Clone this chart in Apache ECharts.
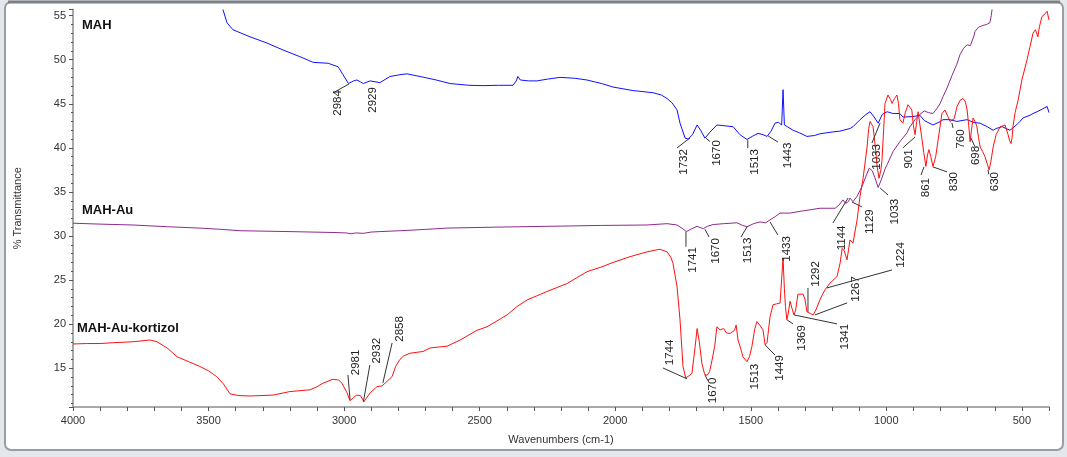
<!DOCTYPE html>
<html>
<head>
<meta charset="utf-8">
<script src="https://cdn.jsdelivr.net/npm/echarts@6/dist/echarts.min.js"></script>
<style>
html,body{margin:0;padding:0;background:#e4e7eb;}
#chart{width:1067px;height:457px;}
</style>
</head>
<body>
<div id="chart"></div>
<script>
// ---------- DATA ----------
const xTickLabels = [4000, 3500, 3000, 2500, 2000, 1500, 1000, 500];
const yTickLabels = [15, 20, 25, 30, 35, 40, 45, 50, 55];
const seriesNames = ['MAH', 'MAH-Au', 'MAH-Au-kortizol'];

// MAH spectrum [wavenumber, %T]
const mah = [
[3447,55.7],[3432,54.2],[3410,53.4],[3347,52.6],[3285,51.9],[3225,51.1],[3163,50.35],[3114,49.7],[3059,49.6],[3022,49.2],[3004,48.3],[2984,47.3],[2965,47.6],[2953,47.7],[2940,47.5],[2929,47.3],[2904,47.6],[2868,47.4],[2831,48.1],[2794,48.3],[2768,48.4],[2720,48.1],[2660,47.7],[2609,47.3],[2540,47.1],[2488,47.06],[2430,47.1],[2377,47.1],[2365,47.6],[2359,48.1],[2350,47.7],[2344,47.9],[2320,47.6],[2289,47.6],[2250,47.8],[2204,48.0],[2150,47.9],[2104,47.7],[2050,47.3],[2008,46.9],[1934,46.5],[1861,46.26],[1830,46.0],[1809,45.6],[1790,45.1],[1772,44.3],[1761,42.8],[1742,41.1],[1731,41.0],[1715,41.5],[1698,42.6],[1685,42.0],[1669,41.1],[1650,41.8],[1625,42.6],[1595,42.5],[1565,42.4],[1540,41.5],[1514,40.95],[1495,41.3],[1473,41.65],[1455,41.5],[1440,41.3],[1425,41.9],[1411,42.8],[1398,42.9],[1386,42.6],[1381,46.6],[1376,42.6],[1365,42.4],[1344,42.0],[1320,41.7],[1293,41.3],[1265,41.4],[1245,41.6],[1200,41.8],[1171,41.9],[1134,42.2],[1123,42.4],[1097,43.2],[1075,43.8],[1060,44.1],[1045,43.5],[1030,42.8],[1015,43.8],[997,44.1],[975,43.9],[950,43.9],[939,43.5],[902,43.55],[876,43.7],[860,43.1],[828,42.6],[800,43.0],[791,43.2],[765,43.2],[740,43.0],[702,43.2],[680,42.9],[654,42.8],[628,42.4],[606,42.0],[595,42.2],[573,42.4],[544,42.0],[520,42.6],[507,43.0],[496,43.4],[470,43.7],[459,43.9],[444,44.1],[425,44.4],[407,44.7],[400,44.0]
];

// MAH-Au spectrum [wavenumber, %T]
const mahAu = [
[4000,31.45],[3900,31.35],[3779,31.25],[3650,31.05],[3532,30.9],[3450,30.75],[3384,30.6],[3200,30.5],[3041,30.4],[2990,30.35],[2978,30.25],[2955,30.35],[2930,30.3],[2900,30.45],[2868,30.5],[2794,30.6],[2700,30.75],[2620,30.9],[2450,31.0],[2252,31.1],[2050,31.2],[1883,31.25],[1809,31.4],[1772,31.25],[1750,30.8],[1737,30.5],[1720,30.8],[1698,31.1],[1687,30.95],[1675,30.85],[1660,31.1],[1639,31.3],[1600,31.4],[1551,31.5],[1530,31.2],[1514,31.05],[1490,31.4],[1466,31.6],[1445,31.5],[1433,31.75],[1410,32.2],[1392,32.6],[1355,32.6],[1318,32.8],[1245,33.15],[1189,33.15],[1175,33.5],[1160,34.1],[1150,33.7],[1140,33.9],[1134,34.3],[1123,33.9],[1108,34.5],[1090,35.6],[1075,36.8],[1063,37.7],[1052,37.4],[1042,36.6],[1030,35.5],[1023,35.3],[1016,36.6],[1005,37.6],[997,38.1],[975,39.6],[950,40.7],[924,41.7],[913,42.4],[894,43.2],[876,43.8],[860,44.2],[845,44.0],[828,43.9],[815,44.4],[802,45.0],[791,45.8],[776,46.8],[758,48.2],[740,49.5],[728,50.6],[715,51.3],[702,51.7],[690,51.6],[684,51.4],[678,52.6],[673,53.2],[660,53.7],[643,53.9],[630,54.0],[618,54.2],[613,55.0],[610,55.7]
];

// MAH-Au-kortizol spectrum [wavenumber, %T]
const mahAuKortizol = [
[4000,17.75],[3950,17.8],[3900,17.8],[3850,17.9],[3779,18.0],[3716,18.2],[3690,18.0],[3653,17.3],[3616,16.3],[3570,15.7],[3532,15.2],[3500,14.7],[3470,14.05],[3447,13.3],[3421,12.1],[3390,11.9],[3347,11.85],[3262,11.95],[3200,12.35],[3126,12.55],[3100,12.9],[3078,13.3],[3041,13.75],[3020,13.65],[3008,13.3],[2989,12.2],[2978,11.3],[2965,11.7],[2953,11.95],[2940,11.9],[2927,11.2],[2904,12.2],[2879,12.9],[2860,13.0],[2849,13.3],[2823,14.05],[2810,15.2],[2794,16.0],[2780,16.4],[2757,16.7],[2709,16.9],[2683,17.3],[2620,17.5],[2572,18.2],[2510,19.3],[2473,19.7],[2440,20.3],[2399,21.05],[2362,22.0],[2325,22.75],[2290,23.2],[2252,23.7],[2178,24.6],[2140,25.3],[2104,25.95],[2050,26.5],[2008,27.0],[1946,27.65],[1883,28.2],[1835,28.5],[1809,28.2],[1795,27.6],[1787,26.9],[1772,24.25],[1761,20.5],[1750,15.2],[1740,13.9],[1733,13.85],[1725,14.2],[1717,14.4],[1705,17.5],[1698,19.5],[1690,18.0],[1680,15.5],[1670,14.3],[1661,14.2],[1652,14.6],[1643,15.9],[1633,17.5],[1625,19.7],[1613,19.35],[1600,19.5],[1590,19.0],[1576,18.95],[1560,19.3],[1554,19.9],[1547,18.2],[1535,17.0],[1529,16.3],[1514,15.75],[1505,16.3],[1496,17.45],[1485,19.5],[1477,20.3],[1465,19.8],[1455,19.35],[1447,17.65],[1440,17.9],[1429,20.8],[1418,22.2],[1405,22.3],[1392,22.4],[1385,22.6],[1381,27.5],[1376,24.0],[1372,22.0],[1367,20.5],[1362,21.2],[1355,22.6],[1348,21.8],[1341,21.05],[1335,21.5],[1326,23.4],[1307,23.4],[1300,22.8],[1293,21.4],[1280,21.2],[1270,21.05],[1260,21.6],[1245,22.75],[1235,23.4],[1226,23.9],[1208,24.65],[1182,25.4],[1170,27.0],[1163,28.6],[1155,28.3],[1145,27.3],[1134,29.55],[1123,29.2],[1108,31.8],[1097,34.5],[1086,36.5],[1071,40.1],[1065,42.2],[1060,43.0],[1049,42.4],[1040,40.0],[1034,37.9],[1027,36.55],[1020,37.5],[1016,38.6],[1010,42.0],[1005,45.0],[994,46.0],[985,45.5],[979,45.05],[970,45.6],[961,46.0],[955,45.0],[950,43.2],[939,42.8],[930,44.0],[920,44.9],[906,44.3],[900,42.5],[894,41.5],[888,43.0],[883,44.1],[876,42.6],[869,41.1],[862,39.5],[854,37.9],[848,39.2],[843,39.8],[836,39.0],[828,37.9],[818,39.0],[809,40.9],[795,43.9],[784,44.3],[773,43.55],[765,43.0],[758,42.8],[750,43.3],[739,44.7],[728,45.4],[717,45.6],[708,45.2],[702,44.3],[696,42.5],[691,40.7],[686,42.0],[680,43.4],[673,43.0],[666,42.4],[660,41.2],[654,40.1],[645,39.6],[636,39.0],[628,38.2],[621,37.5],[614,38.5],[606,40.1],[595,41.5],[580,42.4],[570,42.5],[562,42.6],[551,41.5],[545,40.8],[540,40.5],[536,41.2],[533,42.4],[525,44.0],[514,45.4],[500,47.7],[481,50.0],[470,51.5],[459,53.0],[450,53.4],[444,53.6],[441,52.6],[435,53.8],[426,54.9],[415,55.2],[407,55.5],[402,55.6],[400,54.5]
];

// Peak annotations: [label, peakWn, peakT, leaderEndWn, leaderEndT, labelWn, labelT]
const mahPeaks = [
['2984',2982,47.25,3041,46.23,3023,45.1],
['2929',null,null,null,null,2893,45.44],
['1732',1724,41.13,1772,40.0,1746,38.4],
['1670',1665,41.09,1650,40.71,1625,39.42],
['1513',1511,40.88,1511,39.97,1484,38.4],
['1443',1436,41.35,1400,40.67,1365,39.14],
['1033',1023,42.83,1053,40.56,1034,38.97],
['901',894,41.24,939,40.0,916,38.74],
['861',861,37.84,872,36.93,854,35.49],
['830',828,37.84,776,37.27,750,36.17],
['760',758,42.83,754,42.26,725,41.01],
['698',688,41.13,673,40.11,669,39.14],
['630',625,37.5,622,37.0,599,36.17]
];
const mahAuPeaks = [
['1741',1739,30.5,1739,28.79,1713,27.29],
['1670',1669,30.77,1654,29.89,1628,28.31],
['1513',1514,31.03,1536,29.89,1512,28.36],
['1433',1429,31.6,1400,30.12,1366,28.53],
['1144',1141,34.32,1197,31.48,1165,29.78],
['1129',1127,33.86,1090,33.3,1060,31.63],
['1033',1023,35.45,994,34.66,968,32.77]
];
const mahAuKortizolPeaks = [
['2981',2978,11.4,2986,14.24,2956,15.66],
['2932',2929,11.18,2905,15.37,2880,16.98],
['2858',2857,13.33,2823,17.87,2796,19.46],
['1744',1735,13.79,1824,15.03,1800,16.79],
['1670',1669,14.24,1658,13.57,1641,12.48],
['1513',null,null,null,null,1484,14.05],
['1449',1447,17.64,1411,16.51,1392,15.03],
['1369',1366,20.48,1344,20.03,1311,18.44],
['1341',1341,21.05,1182,20.03,1152,18.58],
['1292',1289,21.39,1289,24.11,1259,25.7],
['1267',1263,21.05,1145,22.41,1112,24.0],
['1224',1219,24.11,979,26.15,946,27.85]
];

// ---------- CHART ----------
const FONT = '"Liberation Sans", Arial, sans-serif';
const allPeaks = mahPeaks.concat(mahAuPeaks, mahAuKortizolPeaks);

const chart = echarts.init(document.getElementById('chart'), null, {renderer: 'canvas'});

function renderPeak(params, api) {
  const a = allPeaks[params.dataIndex];
  const children = [];
  if (a[1] != null) {
    const p1 = api.coord([a[1], a[2]]);
    const p2 = api.coord([a[3], a[4]]);
    children.push({
      type: 'line',
      shape: {x1: p1[0], y1: p1[1], x2: p2[0], y2: p2[1]},
      style: {stroke: '#333', lineWidth: 1}
    });
  }
  const t = api.coord([a[5], a[6]]);
  children.push({
    type: 'text',
    x: t[0], y: t[1],
    rotation: Math.PI / 2,
    style: {
      text: a[0], x: 0, y: 0, align: 'center', verticalAlign: 'middle',
      fill: '#222', font: '11.5px ' + FONT
    }
  });
  return {type: 'group', children: children};
}

const option = {
  backgroundColor: '#e4e7eb',
  animation: false,
  grid: {left: 73, right: 18, top: 9.5, bottom: 50, containLabel: false},
  graphic: [
    {type: 'rect', z: -10, shape: {x: 5, y: 2, width: 1058, height: 448, r: 6},
     style: {fill: '#ffffff', stroke: '#9a9ea4', lineWidth: 2}},
    {type: 'line', z: -9, shape: {x1: 8, y1: 2, x2: 1060, y2: 2},
     style: {stroke: '#7d8084', lineWidth: 3}},
    {type: 'text', x: 82, y: 25, style: {text: seriesNames[0], font: 'bold 13px ' + FONT, fill: '#111', verticalAlign: 'middle'}},
    {type: 'text', x: 82, y: 210, style: {text: seriesNames[1], font: 'bold 13px ' + FONT, fill: '#111', verticalAlign: 'middle'}},
    {type: 'text', x: 77, y: 328, style: {text: seriesNames[2], font: 'bold 13px ' + FONT, fill: '#111', verticalAlign: 'middle'}}
  ],
  xAxis: {
    type: 'value', inverse: true, min: 400, max: 4000, interval: 100,
    name: 'Wavenumbers (cm-1)', nameLocation: 'middle', nameGap: 27,
    nameTextStyle: {color: '#333', fontSize: 11, fontFamily: FONT},
    axisLine: {show: true, onZero: false, lineStyle: {color: '#a8a8a8', width: 2}},
    axisTick: {show: true, length: 4, lineStyle: {color: '#555'}},
    splitLine: {show: false},
    axisLabel: {
      color: '#333', fontSize: 11, fontFamily: FONT, margin: 8,
      formatter: v => xTickLabels.indexOf(v) >= 0 ? String(v) : ''
    }
  },
  yAxis: {
    type: 'value', min: 10.6, max: 55.7, splitNumber: 9, minInterval: 5, maxInterval: 5,
    name: '% Transmittance', nameLocation: 'middle', nameGap: 50,
    nameTextStyle: {color: '#333', fontSize: 11, fontFamily: FONT},
    axisLine: {show: true, onZero: false, lineStyle: {color: '#a8a8a8', width: 2}},
    axisTick: {show: true, length: 4, lineStyle: {color: '#555'}},
    minorTick: {show: true, splitNumber: 5, length: 2, lineStyle: {color: '#555'}},
    splitLine: {show: false},
    axisLabel: {
      color: '#333', fontSize: 11, fontFamily: FONT, margin: 7,
      showMinLabel: false, showMaxLabel: false,
      formatter: v => yTickLabels.indexOf(Math.round(v * 10) / 10) >= 0 ? String(v) : ''
    }
  },
  series: [
    {name: seriesNames[0], type: 'line', data: mah, showSymbol: false, symbol: 'none',
     lineStyle: {color: '#1010ff', width: 1}, z: 3},
    {name: seriesNames[1], type: 'line', data: mahAu, showSymbol: false, symbol: 'none',
     lineStyle: {color: '#8e2a8e', width: 1}, z: 3},
    {name: seriesNames[2], type: 'line', data: mahAuKortizol, showSymbol: false, symbol: 'none',
     lineStyle: {color: '#ff1010', width: 1}, z: 4},
    {name: 'peaks', type: 'custom', coordinateSystem: 'cartesian2d', clip: false, z: 5,
     data: allPeaks.map(a => [a[5], a[6]]),
     renderItem: renderPeak, silent: true}
  ]
};
chart.setOption(option);
</script>
</body>
</html>
